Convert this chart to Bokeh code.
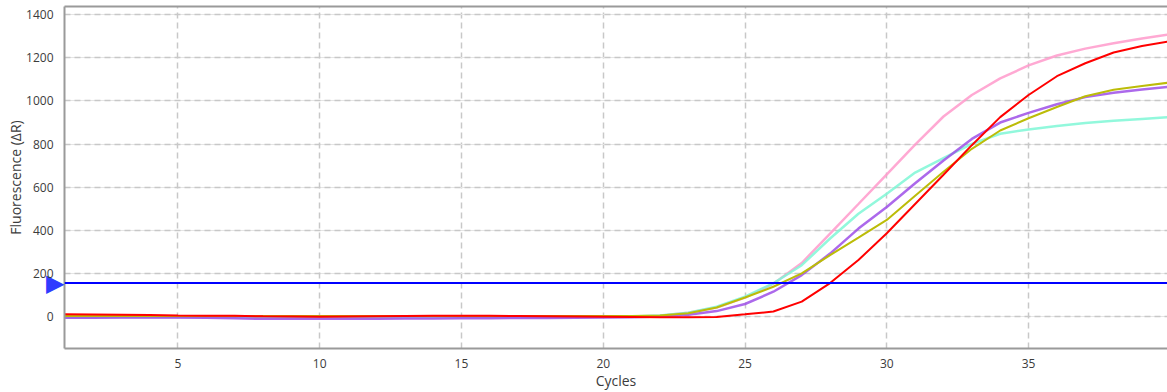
from bokeh.plotting import figure
from bokeh.models import Range1d, LinearAxis, FixedTicker, Span, Grid
from bokeh.embed import file_html
from bokeh.resources import INLINE

# ---- data ----
cycles = list(range(1, 41))
pink = [-3, -3, -3, -3, -3, -3, -3, -3, -3, -3, -3, -3, -3, -3, -3, -3, -3, -3, -2, -2,
        -1, 4, 17, 42, 88, 152, 248, 385, 522, 660, 798, 928, 1028, 1105, 1165, 1211, 1243, 1268, 1290, 1310]
cyan = [-2, -2, -2, -2, -2, -2, -2, -2, -2, -2, -2, -2, -2, -2, -2, -2, -2, -2, -1, -1,
        0, 5, 18, 45, 92, 154, 238, 362, 477, 570, 668, 735, 801, 848, 868, 884, 898, 908, 917, 926]
purple = [-6, -6, -5, -5, -5, -6, -8, -11, -11, -11, -10, -10, -9, -9, -8, -8, -7, -7, -6, -5,
          -3, 0, 8, 25, 58, 115, 192, 292, 408, 508, 618, 724, 824, 900, 945, 985, 1018, 1038, 1053, 1066]
yellow = [2, 2, 2, 2, 2, 2, 2, 2, 2, 2, 2, 2, 2, 2, 2, 2, 2, 2, 2, 2,
          2, 5, 15, 42, 88, 138, 200, 285, 366, 448, 560, 672, 778, 863, 920, 972, 1022, 1052, 1070, 1086]
red = [10, 9, 8, 7, 5, 4, 3, 1, 0, -1, 0, 1, 2, 3, 4, 3, 2, 1, 0, -1,
       -2, -3, -4, -2, 10, 23, 69, 155, 262, 386, 522, 658, 795, 925, 1028, 1115, 1175, 1225, 1255, 1278]
threshold = 155
x_ticks = [5, 10, 15, 20, 25, 30, 35]
y_ticks = [0, 200, 400, 600, 800, 1000, 1200, 1400]
x_label = "Cycles"
y_label = "Fluorescence (ΔR)"
threshold_marker = "▶"

FONT = "Open Sans"
AXIS_GRAY = "#9a9a9a"
TEXT = "#3c3c3c"
GRID = "#c8c8c8"

p = figure(width=1167, height=392, output_backend="svg", toolbar_location=None,
           x_range=Range1d(1, 39.9), y_range=Range1d(-148.5, 1438.5),
           min_border_left=64, min_border_right=0, min_border_top=6, min_border_bottom=44,
           y_axis_location=None)
p.outline_line_color = None
p.background_fill_color = "white"
p.border_fill_color = "white"


def plain(ax):
    ax.major_tick_line_color = None
    ax.minor_tick_line_color = None
    ax.major_tick_in = 0
    ax.major_tick_out = 0
    ax.minor_tick_in = 0
    ax.minor_tick_out = 0


# bottom axis
xa = p.xaxis[0]
xa.ticker = FixedTicker(ticks=x_ticks)
plain(xa)
xa.axis_line_color = AXIS_GRAY
xa.axis_line_width = 2
xa.major_label_text_font = FONT
xa.major_label_text_font_size = "12px"
xa.major_label_text_color = TEXT
xa.major_label_standoff = 10
xa.axis_label = x_label
xa.axis_label_text_font = FONT
xa.axis_label_text_font_size = "14px"
xa.axis_label_text_font_style = "normal"
xa.axis_label_text_color = TEXT
xa.axis_label_standoff = 0

# inner left axis: threshold marker, also draws the left frame line
ta = LinearAxis(ticker=FixedTicker(ticks=[threshold]),
                major_label_overrides={threshold: threshold_marker})
plain(ta)
ta.axis_line_color = AXIS_GRAY
ta.axis_line_width = 2
ta.major_label_standoff = 0
ta.major_label_text_font = "DejaVu Sans"
ta.major_label_text_font_size = "24px"
ta.major_label_text_color = "#2f3cff"
p.add_layout(ta, "left")

# outer left axis: the tick labels and title
ya = LinearAxis(ticker=FixedTicker(ticks=y_ticks), axis_label=y_label)
plain(ya)
ya.axis_line_color = None
ya.major_label_standoff = -10
ya.major_label_text_font = FONT
ya.major_label_text_font_size = "12px"
ya.major_label_text_color = TEXT
ya.axis_label_text_font = FONT
ya.axis_label_text_font_size = "14px"
ya.axis_label_text_font_style = "normal"
ya.axis_label_text_color = TEXT
ya.axis_label_standoff = -2
p.add_layout(ya, "left")

# top frame line
top = LinearAxis(ticker=FixedTicker(ticks=[]), axis_line_color=AXIS_GRAY, axis_line_width=2,
                 major_label_standoff=0)
plain(top)
p.add_layout(top, "above")

# grids
p.xgrid.grid_line_color = GRID
p.xgrid.grid_line_dash = "6 4"
p.xgrid.grid_line_width = 1.5
p.add_layout(Grid(dimension=1, ticker=FixedTicker(ticks=y_ticks), grid_line_color=GRID,
                  grid_line_dash="6 4", grid_line_width=1.5))

p.line(cycles, pink, line_color="#ff9acb", line_width=2.5, line_alpha=0.85)
p.line(cycles, cyan, line_color="#7ff7d6", line_width=2.5, line_alpha=0.85)
p.line(cycles, purple, line_color="#9d4fe8", line_width=2.5, line_alpha=0.85)
p.line(cycles, yellow, line_color="#bcbc08", line_width=2)
p.line(cycles, red, line_color="#ff0000", line_width=2)

p.add_layout(Span(location=threshold, dimension="width", line_color="#0000ff", line_width=2))

open("out.html", "w").write(file_html(p, INLINE))
